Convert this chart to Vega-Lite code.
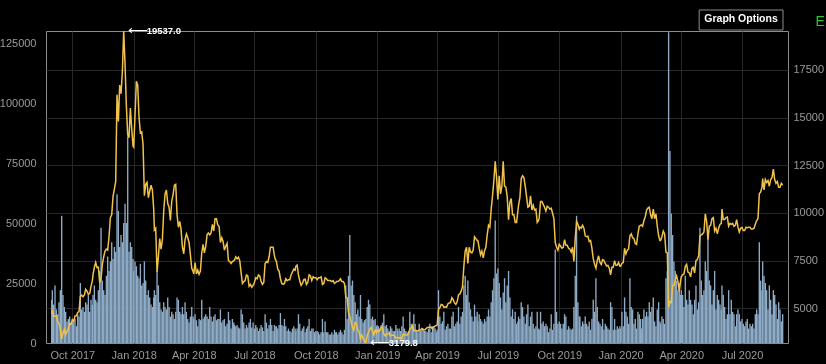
{
"$schema":"https://vega.github.io/schema/vega-lite/v6.json",
"width":742,"height":312,
"autosize":{"type":"none"},
"padding":{"left":46,"top":31,"right":38,"bottom":21},
"background":"#000000",
"config":{"font":"Liberation Sans","view":{"stroke":"#8c8c8c","strokeWidth":1},
"axis":{"labelColor":"#9a9a9a","labelFontSize":11,"labelFont":"Liberation Sans","ticks":false,"domain":false,"gridColor":"#272727","gridWidth":1}},
"data":{"format":{"parse":{"d":"date:'%Y-%m-%d'"}},"values":[
{"d":"2017-08-31","p":4700,"v":18000},{"d":"2017-09-01","p":4900,"v":22000},{"d":"2017-09-03","p":4580,"v":16000},{"d":"2017-09-05","p":4580,"v":24000},{"d":"2017-09-07","p":4600,"v":14000},{"d":"2017-09-09","p":4300,"v":12000},{"d":"2017-09-11","p":4200,"v":17000},{"d":"2017-09-13","p":3880,"v":22000},{"d":"2017-09-15","p":3400,"v":53000},{"d":"2017-09-17","p":3700,"v":20000},{"d":"2017-09-19","p":3900,"v":15000},{"d":"2017-09-21","p":3620,"v":13000},{"d":"2017-09-23","p":3790,"v":9000},{"d":"2017-09-25","p":3930,"v":10000},{"d":"2017-09-27","p":4200,"v":11000},{"d":"2017-09-29","p":4170,"v":8000},
{"d":"2017-10-01","p":4400,"v":9000},{"d":"2017-10-03","p":4310,"v":8500},{"d":"2017-10-05","p":4600,"v":10000},{"d":"2017-10-07","p":4610,"v":7000},{"d":"2017-10-09","p":4780,"v":12000},{"d":"2017-10-11","p":4830,"v":11000},{"d":"2017-10-13","p":5620,"v":25000},{"d":"2017-10-15","p":5690,"v":14000},{"d":"2017-10-17","p":5600,"v":15000},{"d":"2017-10-19","p":5700,"v":13000},{"d":"2017-10-21","p":6000,"v":17000},{"d":"2017-10-23","p":5900,"v":16000},{"d":"2017-10-25","p":5740,"v":20000},{"d":"2017-10-27","p":5770,"v":13000},{"d":"2017-10-29","p":6150,"v":18000},{"d":"2017-10-31","p":6450,"v":16000},
{"d":"2017-11-01","p":6750,"v":20000},{"d":"2017-11-03","p":7150,"v":24000},{"d":"2017-11-05","p":7400,"v":18000},{"d":"2017-11-07","p":7130,"v":17000},{"d":"2017-11-09","p":7150,"v":22000},{"d":"2017-11-11","p":6350,"v":30000},{"d":"2017-11-13","p":6550,"v":48000},{"d":"2017-11-15","p":7300,"v":26000},{"d":"2017-11-17","p":7700,"v":22000},{"d":"2017-11-19","p":8000,"v":20000},{"d":"2017-11-21","p":8100,"v":28000},{"d":"2017-11-23","p":8050,"v":36000},{"d":"2017-11-25","p":8750,"v":30000},{"d":"2017-11-27","p":9750,"v":34000},{"d":"2017-11-29","p":9900,"v":42000},
{"d":"2017-12-01","p":10850,"v":35000},{"d":"2017-12-03","p":11250,"v":40000},{"d":"2017-12-05","p":11650,"v":38000},{"d":"2017-12-07","p":16200,"v":62000},{"d":"2017-12-09","p":14800,"v":55000},{"d":"2017-12-11","p":16700,"v":40000},{"d":"2017-12-13","p":16250,"v":45000},{"d":"2017-12-15","p":17400,"v":42000},{"d":"2017-12-17","p":19537,"v":50000},{"d":"2017-12-19","p":17800,"v":58000},{"d":"2017-12-21","p":15600,"v":50000},{"d":"2017-12-23","p":14100,"v":86000},{"d":"2017-12-25","p":13950,"v":38000},{"d":"2017-12-27","p":15500,"v":42000},{"d":"2017-12-29","p":14400,"v":40000},{"d":"2017-12-31","p":13500,"v":35000},
{"d":"2018-01-01","p":13450,"v":30000},{"d":"2018-01-03","p":15150,"v":34000},{"d":"2018-01-05","p":16900,"v":32000},{"d":"2018-01-07","p":16700,"v":28000},{"d":"2018-01-09","p":15000,"v":27000},{"d":"2018-01-11","p":14200,"v":33000},{"d":"2018-01-13","p":14250,"v":24000},{"d":"2018-01-15","p":13600,"v":25000},{"d":"2018-01-17","p":10900,"v":34000},{"d":"2018-01-19","p":11500,"v":26000},{"d":"2018-01-21","p":11600,"v":20000},{"d":"2018-01-23","p":10800,"v":22000},{"d":"2018-01-25","p":11150,"v":19000},{"d":"2018-01-27","p":11450,"v":16000},{"d":"2018-01-29","p":11200,"v":15000},{"d":"2018-01-31","p":10200,"v":19000},
{"d":"2018-02-01","p":9100,"v":22000},{"d":"2018-02-03","p":9200,"v":20000},{"d":"2018-02-05","p":6900,"v":30000},{"d":"2018-02-07","p":7700,"v":24000},{"d":"2018-02-09","p":8650,"v":17000},{"d":"2018-02-11","p":8100,"v":14000},{"d":"2018-02-13","p":8600,"v":13000},{"d":"2018-02-15","p":10100,"v":17000},{"d":"2018-02-17","p":11000,"v":15000},{"d":"2018-02-19","p":11200,"v":14000},{"d":"2018-02-21","p":10500,"v":19000},{"d":"2018-02-23","p":10300,"v":15000},{"d":"2018-02-25","p":9600,"v":11000},{"d":"2018-02-27","p":10600,"v":13000},
{"d":"2018-03-01","p":10950,"v":12000},{"d":"2018-03-03","p":11450,"v":10000},{"d":"2018-03-05","p":11500,"v":13000},{"d":"2018-03-07","p":9900,"v":19000},{"d":"2018-03-09","p":9250,"v":18000},{"d":"2018-03-11","p":9550,"v":13000},{"d":"2018-03-13","p":9150,"v":12000},{"d":"2018-03-15","p":8200,"v":15000},{"d":"2018-03-17","p":7850,"v":12000},{"d":"2018-03-19","p":8600,"v":17000},{"d":"2018-03-21","p":8900,"v":13000},{"d":"2018-03-23","p":8700,"v":10000},{"d":"2018-03-25","p":8450,"v":8500},{"d":"2018-03-27","p":7800,"v":11000},{"d":"2018-03-29","p":7100,"v":15000},{"d":"2018-03-31","p":6950,"v":11000},
{"d":"2018-04-01","p":6800,"v":10000},{"d":"2018-04-03","p":7400,"v":12000},{"d":"2018-04-05","p":6800,"v":9500},{"d":"2018-04-07","p":7000,"v":7000},{"d":"2018-04-09","p":6780,"v":10000},{"d":"2018-04-11","p":6950,"v":9500},{"d":"2018-04-13","p":7900,"v":18000},{"d":"2018-04-15","p":8350,"v":10000},{"d":"2018-04-17","p":7900,"v":11000},{"d":"2018-04-19","p":8250,"v":12000},{"d":"2018-04-21","p":8850,"v":11000},{"d":"2018-04-23","p":8950,"v":10000},{"d":"2018-04-25","p":8850,"v":15000},{"d":"2018-04-27","p":8950,"v":11000},{"d":"2018-04-29","p":9400,"v":9000},
{"d":"2018-05-01","p":9050,"v":11000},{"d":"2018-05-03","p":9700,"v":12000},{"d":"2018-05-05","p":9700,"v":9500},{"d":"2018-05-07","p":9370,"v":10000},{"d":"2018-05-09","p":9300,"v":10000},{"d":"2018-05-11","p":8450,"v":14000},{"d":"2018-05-13","p":8700,"v":8500},{"d":"2018-05-15","p":8500,"v":9500},{"d":"2018-05-17","p":8050,"v":10000},{"d":"2018-05-19","p":8250,"v":7000},{"d":"2018-05-21","p":8400,"v":8000},{"d":"2018-05-23","p":7500,"v":13000},{"d":"2018-05-25","p":7450,"v":9500},{"d":"2018-05-27","p":7350,"v":6000},{"d":"2018-05-29","p":7450,"v":10000},{"d":"2018-05-31","p":7500,"v":8500},
{"d":"2018-06-01","p":7520,"v":7500},{"d":"2018-06-03","p":7700,"v":7000},{"d":"2018-06-05","p":7600,"v":7500},{"d":"2018-06-07","p":7680,"v":6500},{"d":"2018-06-09","p":7500,"v":6000},{"d":"2018-06-11","p":6880,"v":14000},{"d":"2018-06-13","p":6300,"v":12000},{"d":"2018-06-15","p":6400,"v":8500},{"d":"2018-06-17","p":6450,"v":6000},{"d":"2018-06-19","p":6750,"v":7500},{"d":"2018-06-21","p":6700,"v":6500},{"d":"2018-06-23","p":6150,"v":8500},{"d":"2018-06-25","p":6250,"v":10000},{"d":"2018-06-27","p":6100,"v":6500},{"d":"2018-06-29","p":6200,"v":8500},
{"d":"2018-07-01","p":6350,"v":6000},{"d":"2018-07-03","p":6600,"v":7500},{"d":"2018-07-05","p":6550,"v":6500},{"d":"2018-07-07","p":6750,"v":5000},{"d":"2018-07-09","p":6700,"v":6000},{"d":"2018-07-11","p":6400,"v":7500},{"d":"2018-07-13","p":6250,"v":6500},{"d":"2018-07-15","p":6350,"v":5000},{"d":"2018-07-17","p":7350,"v":12000},{"d":"2018-07-19","p":7450,"v":8500},{"d":"2018-07-21","p":7400,"v":6000},{"d":"2018-07-23","p":7700,"v":7500},{"d":"2018-07-25","p":8200,"v":10000},{"d":"2018-07-27","p":8200,"v":7500},{"d":"2018-07-29","p":8200,"v":5000},{"d":"2018-07-31","p":7750,"v":7500},
{"d":"2018-08-01","p":7600,"v":7000},{"d":"2018-08-03","p":7450,"v":7000},{"d":"2018-08-05","p":7050,"v":6000},{"d":"2018-08-07","p":6950,"v":7500},{"d":"2018-08-09","p":6550,"v":12500},{"d":"2018-08-11","p":6300,"v":7500},{"d":"2018-08-13","p":6250,"v":7000},{"d":"2018-08-15","p":6300,"v":10000},{"d":"2018-08-17","p":6550,"v":7000},{"d":"2018-08-19","p":6450,"v":5000},{"d":"2018-08-21","p":6500,"v":6000},{"d":"2018-08-23","p":6500,"v":5000},{"d":"2018-08-25","p":6750,"v":4500},{"d":"2018-08-27","p":6900,"v":6000},{"d":"2018-08-29","p":7050,"v":7000},{"d":"2018-08-31","p":7000,"v":6000},
{"d":"2018-09-01","p":7200,"v":5000},{"d":"2018-09-03","p":7270,"v":6000},{"d":"2018-09-05","p":6750,"v":12000},{"d":"2018-09-07","p":6430,"v":8000},{"d":"2018-09-09","p":6200,"v":5000},{"d":"2018-09-11","p":6300,"v":6000},{"d":"2018-09-13","p":6500,"v":7000},{"d":"2018-09-15","p":6520,"v":4500},{"d":"2018-09-17","p":6250,"v":6000},{"d":"2018-09-19","p":6350,"v":7000},{"d":"2018-09-21","p":6750,"v":10000},{"d":"2018-09-23","p":6700,"v":5000},{"d":"2018-09-25","p":6450,"v":6000},{"d":"2018-09-27","p":6650,"v":6000},{"d":"2018-09-29","p":6600,"v":4500},
{"d":"2018-10-01","p":6600,"v":5000},{"d":"2018-10-03","p":6500,"v":5000},{"d":"2018-10-05","p":6600,"v":4500},{"d":"2018-10-07","p":6600,"v":3500},{"d":"2018-10-09","p":6650,"v":4500},{"d":"2018-10-11","p":6250,"v":10000},{"d":"2018-10-13","p":6300,"v":4500},{"d":"2018-10-15","p":6600,"v":9000},{"d":"2018-10-17","p":6550,"v":4500},{"d":"2018-10-19","p":6450,"v":4500},{"d":"2018-10-21","p":6450,"v":3500},{"d":"2018-10-23","p":6450,"v":3500},{"d":"2018-10-25","p":6400,"v":4500},{"d":"2018-10-27","p":6450,"v":3500},{"d":"2018-10-29","p":6300,"v":5500},{"d":"2018-10-31","p":6350,"v":4500},
{"d":"2018-11-01","p":6400,"v":4500},{"d":"2018-11-03","p":6400,"v":3500},{"d":"2018-11-05","p":6450,"v":4500},{"d":"2018-11-07","p":6550,"v":5500},{"d":"2018-11-09","p":6400,"v":4500},{"d":"2018-11-11","p":6400,"v":3500},{"d":"2018-11-13","p":6300,"v":5500},{"d":"2018-11-15","p":5600,"v":24000},{"d":"2018-11-17","p":5550,"v":10000},{"d":"2018-11-19","p":4800,"v":28000},{"d":"2018-11-21","p":4550,"v":45000},{"d":"2018-11-23","p":4300,"v":24000},{"d":"2018-11-25","p":4000,"v":26000},{"d":"2018-11-27","p":3850,"v":20000},{"d":"2018-11-29","p":4250,"v":17000},
{"d":"2018-12-01","p":4200,"v":12000},{"d":"2018-12-03","p":3850,"v":14000},{"d":"2018-12-05","p":3780,"v":11000},{"d":"2018-12-07","p":3400,"v":20000},{"d":"2018-12-09","p":3600,"v":10000},{"d":"2018-12-11","p":3420,"v":8500},{"d":"2018-12-13","p":3270,"v":9500},{"d":"2018-12-15","p":3179.8,"v":10000},{"d":"2018-12-17","p":3550,"v":15000},{"d":"2018-12-19","p":3750,"v":18000},{"d":"2018-12-21","p":3900,"v":16000},{"d":"2018-12-23","p":4000,"v":10000},{"d":"2018-12-25","p":3800,"v":11000},{"d":"2018-12-27","p":3600,"v":9500},{"d":"2018-12-29","p":3850,"v":10000},{"d":"2018-12-31","p":3720,"v":7000},
{"d":"2019-01-01","p":3850,"v":7500},{"d":"2019-01-03","p":3780,"v":7000},{"d":"2019-01-05","p":3830,"v":6000},{"d":"2019-01-07","p":4000,"v":7500},{"d":"2019-01-09","p":4000,"v":8500},{"d":"2019-01-11","p":3650,"v":12000},{"d":"2019-01-13","p":3550,"v":7000},{"d":"2019-01-15","p":3650,"v":7500},{"d":"2019-01-17","p":3650,"v":6000},{"d":"2019-01-19","p":3700,"v":5000},{"d":"2019-01-21","p":3560,"v":7000},{"d":"2019-01-23","p":3580,"v":6000},{"d":"2019-01-25","p":3600,"v":5000},{"d":"2019-01-27","p":3560,"v":5000},{"d":"2019-01-29","p":3440,"v":7500},{"d":"2019-01-31","p":3470,"v":6000},
{"d":"2019-02-01","p":3480,"v":5000},{"d":"2019-02-03","p":3420,"v":6000},{"d":"2019-02-05","p":3470,"v":5000},{"d":"2019-02-07","p":3400,"v":7000},{"d":"2019-02-09","p":3650,"v":11000},{"d":"2019-02-11","p":3620,"v":6000},{"d":"2019-02-13","p":3600,"v":5000},{"d":"2019-02-15","p":3600,"v":4500},{"d":"2019-02-17","p":3660,"v":5000},{"d":"2019-02-19","p":3920,"v":13000},{"d":"2019-02-21","p":3960,"v":8000},{"d":"2019-02-23","p":4100,"v":7000},{"d":"2019-02-25","p":3820,"v":12000},{"d":"2019-02-27","p":3840,"v":8000},
{"d":"2019-03-01","p":3830,"v":5000},{"d":"2019-03-03","p":3800,"v":4500},{"d":"2019-03-05","p":3860,"v":8000},{"d":"2019-03-07","p":3860,"v":5000},{"d":"2019-03-09","p":3940,"v":6000},{"d":"2019-03-11","p":3870,"v":6000},{"d":"2019-03-13","p":3860,"v":5000},{"d":"2019-03-15","p":3920,"v":5000},{"d":"2019-03-17","p":3990,"v":4500},{"d":"2019-03-19","p":4010,"v":6000},{"d":"2019-03-21","p":4000,"v":8000},{"d":"2019-03-23","p":4010,"v":4500},{"d":"2019-03-25","p":3920,"v":7000},{"d":"2019-03-27","p":4030,"v":7000},{"d":"2019-03-29","p":4080,"v":6000},{"d":"2019-03-31","p":4100,"v":4500},
{"d":"2019-04-01","p":4120,"v":5500},{"d":"2019-04-03","p":4950,"v":22000},{"d":"2019-04-05","p":5020,"v":11000},{"d":"2019-04-07","p":5200,"v":8000},{"d":"2019-04-09","p":5180,"v":9000},{"d":"2019-04-11","p":5050,"v":13000},{"d":"2019-04-13","p":5080,"v":5500},{"d":"2019-04-15","p":5050,"v":7000},{"d":"2019-04-17","p":5230,"v":8000},{"d":"2019-04-19","p":5280,"v":6000},{"d":"2019-04-21","p":5300,"v":6000},{"d":"2019-04-23","p":5550,"v":11000},{"d":"2019-04-25","p":5450,"v":13000},{"d":"2019-04-27","p":5280,"v":7000},{"d":"2019-04-29","p":5200,"v":8000},
{"d":"2019-05-01","p":5350,"v":9000},{"d":"2019-05-03","p":5700,"v":15000},{"d":"2019-05-05","p":5750,"v":8000},{"d":"2019-05-07","p":5900,"v":11000},{"d":"2019-05-09","p":6150,"v":13000},{"d":"2019-05-11","p":7200,"v":24000},{"d":"2019-05-13","p":8000,"v":28000},{"d":"2019-05-15","p":8200,"v":20000},{"d":"2019-05-17","p":7350,"v":26000},{"d":"2019-05-19","p":8200,"v":17000},{"d":"2019-05-21","p":7950,"v":14000},{"d":"2019-05-23","p":7900,"v":11000},{"d":"2019-05-25","p":8050,"v":9000},{"d":"2019-05-27","p":8750,"v":16000},{"d":"2019-05-29","p":8650,"v":11000},{"d":"2019-05-31","p":8550,"v":13000},
{"d":"2019-06-01","p":8550,"v":9000},{"d":"2019-06-03","p":8150,"v":12000},{"d":"2019-06-05","p":7800,"v":10000},{"d":"2019-06-07","p":8000,"v":9000},{"d":"2019-06-09","p":7650,"v":8000},{"d":"2019-06-11","p":8000,"v":10000},{"d":"2019-06-13","p":8200,"v":9000},{"d":"2019-06-15","p":8850,"v":11000},{"d":"2019-06-17","p":9350,"v":14000},{"d":"2019-06-19","p":9250,"v":11000},{"d":"2019-06-21","p":10200,"v":17000},{"d":"2019-06-23","p":10900,"v":22000},{"d":"2019-06-25","p":11700,"v":27000},{"d":"2019-06-27","p":12700,"v":51000},{"d":"2019-06-29","p":11900,"v":29000},
{"d":"2019-07-01","p":10700,"v":31000},{"d":"2019-07-03","p":11950,"v":25000},{"d":"2019-07-05","p":11000,"v":19000},{"d":"2019-07-07","p":11400,"v":14000},{"d":"2019-07-09","p":12700,"v":21000},{"d":"2019-07-11","p":11400,"v":27000},{"d":"2019-07-13","p":11350,"v":17000},{"d":"2019-07-15","p":10850,"v":24000},{"d":"2019-07-17","p":9650,"v":30000},{"d":"2019-07-19","p":10550,"v":19000},{"d":"2019-07-21","p":10750,"v":11000},{"d":"2019-07-23","p":9900,"v":14000},{"d":"2019-07-25","p":9900,"v":10000},{"d":"2019-07-27","p":9500,"v":13000},{"d":"2019-07-29","p":9500,"v":8000},{"d":"2019-07-31","p":10100,"v":9000},
{"d":"2019-08-01","p":10400,"v":11000},{"d":"2019-08-03","p":10800,"v":10000},{"d":"2019-08-05","p":11800,"v":17000},{"d":"2019-08-07","p":11950,"v":15000},{"d":"2019-08-09","p":11850,"v":11000},{"d":"2019-08-11","p":11400,"v":8000},{"d":"2019-08-13","p":10850,"v":12000},{"d":"2019-08-15","p":10300,"v":16000},{"d":"2019-08-17","p":10350,"v":7000},{"d":"2019-08-19","p":10900,"v":11000},{"d":"2019-08-21","p":10150,"v":13000},{"d":"2019-08-23","p":10400,"v":8000},{"d":"2019-08-25","p":10150,"v":6000},{"d":"2019-08-27","p":10200,"v":7000},{"d":"2019-08-29","p":9500,"v":13000},{"d":"2019-08-31","p":9600,"v":6000},
{"d":"2019-09-01","p":9750,"v":5500},{"d":"2019-09-03","p":10600,"v":13000},{"d":"2019-09-05","p":10600,"v":8000},{"d":"2019-09-07","p":10450,"v":9000},{"d":"2019-09-09","p":10300,"v":7000},{"d":"2019-09-11","p":10100,"v":8000},{"d":"2019-09-13","p":10350,"v":7000},{"d":"2019-09-15","p":10300,"v":4500},{"d":"2019-09-17","p":10200,"v":6000},{"d":"2019-09-19","p":10250,"v":12000},{"d":"2019-09-21","p":9980,"v":5500},{"d":"2019-09-23","p":9700,"v":8000},{"d":"2019-09-25","p":8450,"v":39000},{"d":"2019-09-27","p":8200,"v":13000},{"d":"2019-09-29","p":8050,"v":8000},
{"d":"2019-10-01","p":8350,"v":9000},{"d":"2019-10-03","p":8250,"v":8000},{"d":"2019-10-05","p":8150,"v":6000},{"d":"2019-10-07","p":8200,"v":8000},{"d":"2019-10-09","p":8600,"v":12000},{"d":"2019-10-11","p":8300,"v":11000},{"d":"2019-10-13","p":8300,"v":5500},{"d":"2019-10-15","p":8150,"v":7000},{"d":"2019-10-17","p":8100,"v":6000},{"d":"2019-10-19","p":7950,"v":5500},{"d":"2019-10-21","p":8200,"v":6000},{"d":"2019-10-23","p":7450,"v":15000},{"d":"2019-10-25","p":8650,"v":28000},{"d":"2019-10-27","p":9550,"v":53000},{"d":"2019-10-29","p":9400,"v":17000},{"d":"2019-10-31","p":9150,"v":11000},
{"d":"2019-11-01","p":9250,"v":11000},{"d":"2019-11-03","p":9200,"v":7000},{"d":"2019-11-05","p":9350,"v":9000},{"d":"2019-11-07","p":9200,"v":8000},{"d":"2019-11-09","p":8800,"v":11000},{"d":"2019-11-11","p":8750,"v":8000},{"d":"2019-11-13","p":8780,"v":7000},{"d":"2019-11-15","p":8500,"v":9000},{"d":"2019-11-17","p":8550,"v":5500},{"d":"2019-11-19","p":8150,"v":10000},{"d":"2019-11-21","p":7600,"v":18000},{"d":"2019-11-23","p":7300,"v":13000},{"d":"2019-11-25","p":7100,"v":27000},{"d":"2019-11-27","p":7500,"v":15000},{"d":"2019-11-29","p":7750,"v":9000},
{"d":"2019-12-01","p":7400,"v":8000},{"d":"2019-12-03","p":7300,"v":7000},{"d":"2019-12-05","p":7550,"v":10000},{"d":"2019-12-07","p":7500,"v":5500},{"d":"2019-12-09","p":7350,"v":8000},{"d":"2019-12-11","p":7220,"v":7000},{"d":"2019-12-13","p":7250,"v":6000},{"d":"2019-12-15","p":7100,"v":5500},{"d":"2019-12-17","p":6750,"v":17000},{"d":"2019-12-19","p":7150,"v":15000},{"d":"2019-12-21","p":7150,"v":5500},{"d":"2019-12-23","p":7500,"v":10000},{"d":"2019-12-25","p":7250,"v":5500},{"d":"2019-12-27","p":7250,"v":7000},{"d":"2019-12-29","p":7400,"v":6000},{"d":"2019-12-31","p":7200,"v":7000},
{"d":"2020-01-01","p":7200,"v":6000},{"d":"2020-01-03","p":7350,"v":13000},{"d":"2020-01-05","p":7400,"v":7000},{"d":"2020-01-07","p":8150,"v":19000},{"d":"2020-01-09","p":7850,"v":13000},{"d":"2020-01-11","p":8050,"v":11000},{"d":"2020-01-13","p":8100,"v":8000},{"d":"2020-01-15","p":8800,"v":27000},{"d":"2020-01-17","p":8900,"v":15000},{"d":"2020-01-19","p":8700,"v":14000},{"d":"2020-01-21","p":8650,"v":8000},{"d":"2020-01-23","p":8400,"v":10000},{"d":"2020-01-25","p":8350,"v":6000},{"d":"2020-01-27","p":8900,"v":13000},{"d":"2020-01-29","p":9300,"v":12000},{"d":"2020-01-31","p":9350,"v":10000},
{"d":"2020-02-01","p":9370,"v":6000},{"d":"2020-02-03","p":9300,"v":10000},{"d":"2020-02-05","p":9600,"v":14000},{"d":"2020-02-07","p":9800,"v":11000},{"d":"2020-02-09","p":10150,"v":13000},{"d":"2020-02-11","p":10250,"v":11000},{"d":"2020-02-13","p":10300,"v":17000},{"d":"2020-02-15","p":9900,"v":13000},{"d":"2020-02-17","p":9700,"v":15000},{"d":"2020-02-19","p":10200,"v":19000},{"d":"2020-02-21","p":9700,"v":9000},{"d":"2020-02-23","p":9950,"v":7000},{"d":"2020-02-25","p":9300,"v":14000},{"d":"2020-02-27","p":8800,"v":17000},{"d":"2020-02-29","p":8550,"v":9000},
{"d":"2020-03-01","p":8550,"v":8000},{"d":"2020-03-03","p":8750,"v":11000},{"d":"2020-03-05","p":9050,"v":10000},{"d":"2020-03-07","p":8900,"v":8000},{"d":"2020-03-09","p":7950,"v":27000},{"d":"2020-03-11","p":7900,"v":30000},{"d":"2020-03-13","p":5050,"v":129500},{"d":"2020-03-15","p":5350,"v":80000},{"d":"2020-03-17","p":5300,"v":54000},{"d":"2020-03-19","p":6200,"v":45000},{"d":"2020-03-21","p":6200,"v":34000},{"d":"2020-03-23","p":6500,"v":30000},{"d":"2020-03-25","p":6700,"v":26000},{"d":"2020-03-27","p":6400,"v":22000},{"d":"2020-03-29","p":5900,"v":25000},{"d":"2020-03-31","p":6450,"v":20000},
{"d":"2020-04-01","p":6650,"v":22000},{"d":"2020-04-03","p":6750,"v":20000},{"d":"2020-04-05","p":6800,"v":15000},{"d":"2020-04-07","p":7200,"v":28000},{"d":"2020-04-09","p":7300,"v":18000},{"d":"2020-04-11","p":6900,"v":16000},{"d":"2020-04-13","p":6850,"v":22000},{"d":"2020-04-15","p":6650,"v":18000},{"d":"2020-04-17","p":7100,"v":16000},{"d":"2020-04-19","p":7150,"v":12000},{"d":"2020-04-21","p":6850,"v":18000},{"d":"2020-04-23","p":7500,"v":24000},{"d":"2020-04-25","p":7550,"v":14000},{"d":"2020-04-27","p":7750,"v":17000},{"d":"2020-04-29","p":8800,"v":48000},
{"d":"2020-05-01","p":8850,"v":26000},{"d":"2020-05-03","p":8900,"v":20000},{"d":"2020-05-05","p":9000,"v":22000},{"d":"2020-05-07","p":9950,"v":34000},{"d":"2020-05-09","p":9550,"v":30000},{"d":"2020-05-11","p":8600,"v":45000},{"d":"2020-05-13","p":9300,"v":26000},{"d":"2020-05-15","p":9350,"v":24000},{"d":"2020-05-17","p":9700,"v":16000},{"d":"2020-05-19","p":9750,"v":22000},{"d":"2020-05-21","p":9050,"v":30000},{"d":"2020-05-23","p":9200,"v":14000},{"d":"2020-05-25","p":8900,"v":20000},{"d":"2020-05-27","p":9200,"v":18000},{"d":"2020-05-29","p":9400,"v":16000},{"d":"2020-05-31","p":9450,"v":14000},
{"d":"2020-06-01","p":10200,"v":24000},{"d":"2020-06-03","p":9650,"v":20000},{"d":"2020-06-05","p":9650,"v":15000},{"d":"2020-06-07","p":9750,"v":10000},{"d":"2020-06-09","p":9780,"v":12000},{"d":"2020-06-11","p":9300,"v":22000},{"d":"2020-06-13","p":9450,"v":12000},{"d":"2020-06-15","p":9400,"v":18000},{"d":"2020-06-17","p":9450,"v":13000},{"d":"2020-06-19","p":9300,"v":12000},{"d":"2020-06-21","p":9350,"v":7000},{"d":"2020-06-23","p":9650,"v":12000},{"d":"2020-06-25","p":9250,"v":14000},{"d":"2020-06-27","p":9000,"v":12000},{"d":"2020-06-29","p":9200,"v":9000},
{"d":"2020-07-01","p":9230,"v":10000},{"d":"2020-07-03","p":9080,"v":8000},{"d":"2020-07-05","p":9080,"v":7000},{"d":"2020-07-07","p":9250,"v":9000},{"d":"2020-07-09","p":9230,"v":10000},{"d":"2020-07-11","p":9250,"v":6000},{"d":"2020-07-13","p":9250,"v":8000},{"d":"2020-07-15","p":9150,"v":7000},{"d":"2020-07-17","p":9150,"v":8000},{"d":"2020-07-19","p":9200,"v":6000},{"d":"2020-07-21","p":9400,"v":12000},{"d":"2020-07-23","p":9600,"v":14000},{"d":"2020-07-25","p":9700,"v":12000},{"d":"2020-07-27","p":11000,"v":42000},{"d":"2020-07-29","p":11100,"v":26000},{"d":"2020-07-31","p":11350,"v":22000},
{"d":"2020-08-01","p":11800,"v":34000},{"d":"2020-08-03","p":11200,"v":28000},{"d":"2020-08-05","p":11750,"v":25000},{"d":"2020-08-07","p":11600,"v":22000},{"d":"2020-08-09","p":11700,"v":14000},{"d":"2020-08-11","p":11400,"v":24000},{"d":"2020-08-13","p":11750,"v":18000},{"d":"2020-08-15","p":11850,"v":12000},{"d":"2020-08-17","p":12300,"v":22000},{"d":"2020-08-19","p":11750,"v":20000},{"d":"2020-08-21","p":11550,"v":16000},{"d":"2020-08-23","p":11650,"v":10000},{"d":"2020-08-25","p":11350,"v":17000},{"d":"2020-08-27","p":11350,"v":14000},{"d":"2020-08-29","p":11550,"v":9000},{"d":"2020-08-31","p":11450,"v":12000}
]},
"resolve":{"scale":{"y":"independent"}},
"layer":[
{"mark":{"type":"bar","width":1.35,"color":"#8eacc7","clip":true},
 "encoding":{
  "x":{"field":"d","type":"temporal","scale":{"domain":[{"year":2017,"month":8,"date":30},{"year":2020,"month":8,"date":31,"hours":12}]},
       "axis":{"title":null,"format":"%b %Y","tickCount":{"interval":"month","step":3},"grid":true,"labelPadding":6,"labelOverlap":false,"labelFlush":false}},
  "y":{"field":"v","type":"quantitative","scale":{"domain":[0,130000],"nice":false},
       "axis":{"title":null,"orient":"left","values":[0,25000,50000,75000,100000,125000],"format":"d","grid":false,"labelPadding":10}}
 }},
{"layer":[
 {"mark":{"type":"line","color":"#f0c24a","strokeWidth":1.5,"blend":"screen","clip":true},
  "encoding":{
   "x":{"field":"d","type":"temporal","axis":{"title":null,"format":"%b %Y","tickCount":{"interval":"month","step":3},"grid":true,"labelPadding":6,"labelOverlap":false,"labelFlush":false}},
   "y":{"field":"p","type":"quantitative","scale":{"domain":[3179.8,19537],"nice":false,"zero":false},
        "axis":{"title":null,"orient":"right","values":[5000,7500,10000,12500,15000,17500],"format":"d","grid":true,"labelPadding":5}}
  }},
 {"transform":[{"filter":"datum.p == 19537 || datum.p == 3179.8"}],
  "mark":{"type":"text","text":"⟵","align":"left","baseline":"middle","dx":4,"fontSize":14,"color":"#ffffff"},
  "encoding":{"x":{"field":"d","type":"temporal"},"y":{"field":"p","type":"quantitative"}}},
 {"transform":[{"filter":"datum.p == 19537 || datum.p == 3179.8"}],
  "mark":{"type":"text","align":"left","baseline":"middle","dx":23,"fontSize":9.5,"fontWeight":"bold","color":"#ffffff"},
  "encoding":{"x":{"field":"d","type":"temporal"},"y":{"field":"p","type":"quantitative"},"text":{"field":"p","type":"quantitative","format":".1f"}}},
 {"data":{"values":[{}]},
  "mark":{"type":"rect","fill":"#000000","stroke":"#8c8c8c","strokeWidth":1},
  "encoding":{"x":{"datum":{"year":2020,"month":4,"date":27,"hours":19},"type":"temporal"},"x2":{"datum":{"year":2020,"month":8,"date":31,"hours":12}},
   "y":{"datum":20638,"type":"quantitative"},"y2":{"datum":19589}}},
 {"data":{"values":[{}]},
  "mark":{"type":"text","text":"Graph Options","align":"center","baseline":"middle","fontSize":10.5,"fontWeight":"bold","color":"#ffffff"},
  "encoding":{"x":{"datum":{"year":2020,"month":6,"date":29,"hours":14},"type":"temporal"},"y":{"datum":20166,"type":"quantitative"}}},
 {"data":{"values":[{}]},
  "mark":{"type":"text","text":"E","align":"left","baseline":"middle","fontSize":14,"color":"#2ec42e"},
  "encoding":{"x":{"datum":{"year":2020,"month":10,"date":19,"hours":8},"type":"temporal"},"y":{"datum":20025,"type":"quantitative"}}}
]}
]
}
